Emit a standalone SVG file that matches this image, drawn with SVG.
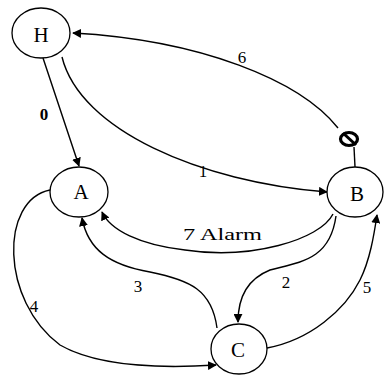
<svg xmlns="http://www.w3.org/2000/svg" width="385" height="375" viewBox="0 0 385 375">
<style>
.n{fill:#fff;stroke:#000;stroke-width:1.3}
.e{fill:none;stroke:#000;stroke-width:1.4}
.t{font-family:"Liberation Serif",serif;font-size:21px;fill:#000;text-anchor:middle}
.l{font-family:"Liberation Serif",serif;font-size:17px;fill:#000;text-anchor:middle}
</style>
<defs>
<marker id="ah" viewBox="0 0 10 10" refX="9" refY="5" markerWidth="9" markerHeight="9" markerUnits="userSpaceOnUse" orient="auto">
<path d="M0,0 L10,5 L0,10 z" fill="#000"/>
</marker>
</defs>
<g id="connectors">
<path class="e" d="M338,128 C300,80 200,40 73,33" marker-end="url(#ah)"/>
<path class="e" d="M62,57 C80,130 200,182 327,192" marker-end="url(#ah)"/>
<path class="e" d="M43,58 L79,166" marker-end="url(#ah)"/>
<path class="e" d="M333,214 C320,240 250,260 185,250 C140,245 110,230 102,212" marker-end="url(#ah)"/>
<path class="e" d="M217,328 C212,290 190,280 150,272 C110,265 88,250 82,218" marker-end="url(#ah)"/>
<path class="e" d="M50,190 C0,200 0,300 60,345 C100,368 170,368 216,365" marker-end="url(#ah)"/>
<path class="e" d="M336,216 C330,260 300,262 270,270 C245,280 238,300 238,322" marker-end="url(#ah)"/>
<path class="e" d="M267,348 C310,340 345,310 360,280 C370,260 374,235 377,215" marker-end="url(#ah)"/>
<line class="e" x1="354" y1="147" x2="355" y2="167"/>
</g>
<g id="H"><ellipse class="n" cx="41" cy="33" rx="29" ry="25"/><text class="t" x="41" y="42">H</text></g>
<g id="A"><ellipse class="n" cx="79" cy="192" rx="29" ry="25"/><text class="t" x="81" y="199">A</text></g>
<g id="B"><ellipse class="n" cx="355" cy="192" rx="28" ry="25"/><text class="t" x="357" y="201">B</text></g>
<g id="C"><ellipse class="n" cx="239" cy="349" rx="28" ry="25"/><text class="t" x="238" y="357">C</text></g>
<g id="block"><ellipse cx="349" cy="139" rx="8.5" ry="6.5" fill="none" stroke="#000" stroke-width="3.2"/><line x1="343" y1="133" x2="356" y2="145" stroke="#000" stroke-width="3"/></g>
<g id="labels">
<text class="l" x="44" y="120" font-weight="bold">0</text>
<text class="l" x="203" y="177">1</text>
<text class="l" x="286" y="288">2</text>
<text class="l" x="138" y="292">3</text>
<text class="l" x="34" y="312">4</text>
<text class="l" x="367" y="293">5</text>
<text class="l" x="242" y="63">6</text>
<text class="l" x="183" y="240" style="text-anchor:start" textLength="79" lengthAdjust="spacingAndGlyphs">7  Alarm</text>
</g>
</svg>
